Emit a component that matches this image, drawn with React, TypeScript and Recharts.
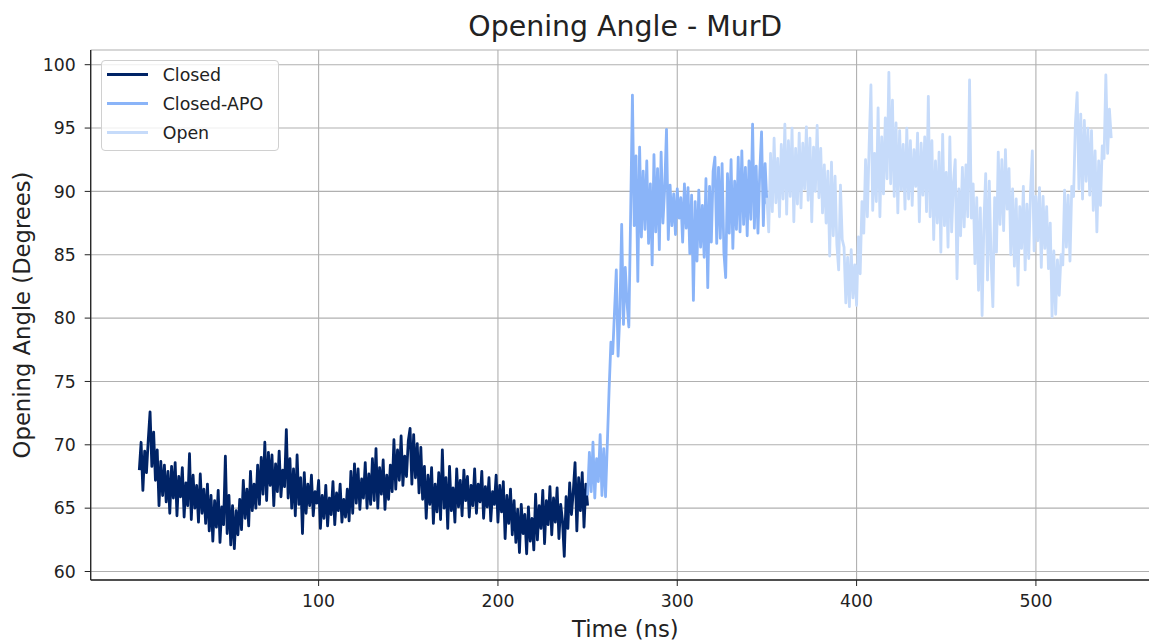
import { CartesianGrid, Legend, Line, LineChart, XAxis, YAxis } from "recharts"

// opening angle (degrees) sampled every 1 ns, one array per state
const closedStart = 0
const closedAngle = [
    68.0, 70.2, 66.4, 69.5, 67.8, 70.4, 72.6, 68.3, 71.0, 67.2,
    69.6, 65.2, 68.7, 66.0, 68.4, 65.5, 67.9, 64.6, 68.3, 65.8,
    68.6, 64.4, 67.5, 65.9, 68.2, 64.3, 67.0, 65.2, 69.3, 64.1,
    67.6, 65.0, 66.8, 63.9, 67.7, 64.6, 66.5, 63.8, 66.9, 63.2,
    66.0, 62.4, 65.6, 63.5, 66.4, 62.3, 65.1, 63.7, 69.1, 63.0,
    66.0, 62.1, 65.2, 61.8, 64.8, 62.9, 65.7, 63.3, 67.2, 64.2,
    66.5, 63.6, 67.9, 64.8, 66.9, 65.0, 68.4, 65.3, 69.0, 66.1,
    70.2, 65.6, 69.4, 66.8, 69.2, 65.2, 68.5, 66.3, 69.5, 65.9,
    68.0, 66.7, 71.2, 65.8, 68.9, 65.0, 68.1, 64.4, 69.2, 65.3,
    67.4, 63.0, 67.8, 64.6, 66.9, 65.2, 67.6, 64.4, 66.3, 65.4,
    67.2, 63.4, 66.0, 64.2, 66.8, 63.6, 65.8, 64.5, 67.1, 63.7,
    66.2, 64.8, 66.9, 63.9, 65.7, 64.3, 66.5, 64.0, 67.9, 64.6,
    68.5, 65.4, 68.1, 64.9, 67.3, 65.8, 68.6, 65.0, 67.7, 65.3,
    68.9, 65.6, 69.7, 65.0, 68.2, 66.1, 68.8, 64.9, 67.6, 65.7,
    68.4, 66.3, 70.4, 66.5, 69.6, 67.2, 70.7, 66.8, 69.1, 67.5,
    70.3, 71.3, 66.9, 70.8, 67.4, 70.1, 66.2, 69.8, 65.7, 68.3,
    64.2, 67.6, 65.3, 68.2, 63.8, 66.9, 64.7, 67.8, 64.1, 69.6,
    65.0, 67.4, 63.4, 68.3, 64.8, 66.6, 63.9, 68.1, 65.1, 67.2,
    64.4, 68.0, 65.6, 67.5, 64.3, 66.8, 65.2, 68.1, 64.6, 66.9,
    65.5, 67.9, 64.2, 66.7, 65.1, 67.4, 64.0, 66.3, 65.3, 67.6,
    63.9, 66.8, 64.7, 67.1, 62.6, 66.0, 63.8, 66.5, 62.9, 65.6,
    62.3, 64.9, 61.5, 65.3, 63.0, 64.5, 61.4, 65.1, 62.4, 64.2,
    61.7, 66.1, 62.5, 65.2, 63.4, 66.4, 62.2, 65.6, 63.7, 66.7,
    62.9, 65.8, 63.9, 66.6, 62.6, 65.3, 64.0, 61.2, 65.9, 63.4,
    67.0, 64.5, 66.3, 68.6, 63.2, 67.4, 64.8, 67.8, 63.5, 66.9,
    65.2,
]

const apoStart = 250
const apoAngle = [
    66.0, 69.4, 66.3, 70.2, 65.8, 68.9, 67.1, 70.8, 66.0, 69.7,
    65.9, 70.1, 74.4, 78.1, 77.2, 80.5, 83.8, 77.0, 80.4, 87.4,
    79.5, 84.0, 81.2, 79.3, 88.2, 97.6, 87.3, 92.8, 82.9, 93.5,
    86.4, 91.6, 87.0, 92.4, 85.9, 90.6, 84.2, 92.9, 86.8, 91.8,
    85.4, 93.1, 87.5, 90.3, 94.9, 86.2, 90.5, 87.3, 89.8, 86.6,
    90.2, 87.9, 89.5, 86.0, 90.6, 87.1, 90.3, 85.1, 89.7, 81.4,
    89.2, 84.5, 90.1, 85.6, 88.9, 84.8, 91.0, 82.4, 90.4, 86.0,
    91.6, 92.7, 85.9, 91.9, 86.3, 92.2, 85.2, 83.2, 91.4, 86.7,
    92.5, 85.5, 90.8, 87.0, 92.7, 86.8, 93.2, 87.4, 91.9, 86.5,
    92.4, 87.8, 95.3, 87.1, 92.0, 86.7, 91.5, 94.7, 87.3, 92.2,
    89.0,
]

const openStart = 350
const openAngle = [
    89.5, 86.8, 93.0, 88.4, 94.2, 89.1, 92.6, 88.0, 93.7, 89.4,
    95.3, 88.2, 94.0, 89.6, 95.0, 87.6, 93.4, 89.0, 94.6, 88.7,
    93.8, 90.2, 95.1, 89.3, 94.2, 87.6, 93.5, 90.0, 95.2, 89.5,
    93.4, 88.3, 92.1, 87.5, 91.6, 84.9, 92.3, 86.5, 91.2, 85.8,
    83.8, 90.5, 86.2, 85.6, 81.2, 84.8, 80.9, 85.4, 81.6, 84.2,
    81.0, 86.4, 83.5, 89.2, 86.7, 92.5, 88.0, 93.6, 98.4, 88.5,
    93.0, 89.2, 96.6, 88.0, 94.3, 89.8, 95.8, 91.0, 99.4, 90.6,
    97.2, 89.6, 95.4, 88.3, 94.8, 90.1, 93.7, 88.6, 95.0, 89.4,
    94.0, 88.9, 93.3, 90.4, 94.6, 87.6, 93.8, 89.7, 94.3, 88.4,
    97.5, 88.0, 94.0, 86.2, 92.4, 87.5, 93.1, 85.2, 94.5, 87.3,
    91.5, 85.6, 94.3, 86.8, 90.7, 92.5, 83.1, 90.2, 86.5, 91.9,
    87.2, 92.1, 88.0, 98.8, 87.9, 90.6, 84.3, 89.5, 82.2, 88.7,
    80.2, 87.6, 91.4, 83.0, 90.8, 84.6, 80.9, 89.5, 85.2, 93.1,
    87.4, 92.5, 86.9, 93.3, 88.6, 91.8, 85.0, 90.2, 84.1, 89.4,
    82.6, 88.8, 85.5, 90.4, 83.8, 89.0, 84.7, 90.0, 93.2, 85.3,
    89.6, 86.1, 90.3, 84.0, 89.6, 85.5, 88.8, 83.9, 87.5, 80.1,
    85.3, 80.3, 84.6, 81.8, 85.0, 84.2, 90.1, 85.6, 89.7, 84.5,
    90.4, 89.6, 95.3, 97.8, 90.2, 96.1, 89.4, 95.6, 90.8, 95.0,
    89.7, 94.8, 88.5, 93.2, 86.8, 92.4, 88.9, 93.6, 92.6, 99.2,
    93.0, 96.5, 94.2,
]

const timeTicks = [100, 200, 300, 400, 500]
const angleTicks = [60, 65, 70, 75, 80, 85, 90, 95, 100]

const toSeries = (start: number, values: number[]) =>
    values.map((angle, i) => ({ time: start + i, angle }))

const font = "DejaVu Sans"
const ink = "#222222"
const timeDomain: [number, number] = [-27.1, 569.2]
const angleDomain: [number, number] = [59.33, 101.16]
const lineWidth = 2.8

function PlotLegend({ payload }: any) {
    return (
        <div
            style={{
                position: "relative",
                width: 178,
                height: 91,
                boxSizing: "border-box",
                border: "1px solid #d0d0d0",
                borderRadius: 4,
                background: "rgba(255,255,255,0.8)",
                fontFamily: font,
                fontSize: 17.4,
                color: ink,
            }}
        >
            {(payload || []).map((item: any, i: number) => (
                <div
                    key={item.value}
                    style={{ position: "absolute", left: 0, top: 0.7 + i * 29, height: 26, display: "flex", alignItems: "center" }}
                >
                    <span style={{ display: "inline-block", marginLeft: 5, width: 41, height: 2.5, background: item.color }} />
                    <span style={{ marginLeft: 15, whiteSpace: "nowrap" }}>{item.value}</span>
                </div>
            ))}
        </div>
    )
}

export default function App() {
    return (
        <div style={{ position: "fixed", left: 0, top: 0, width: 1149, height: 641, overflow: "hidden", background: "#fff" }}>
            <div
                style={{
                    position: "absolute",
                    left: 0,
                    top: 12.5,
                    width: 1250.6,
                    textAlign: "center",
                    fontFamily: font,
                    fontSize: 28.4,
                    lineHeight: 1,
                    color: ink,
                    whiteSpace: "nowrap",
                }}
            >
                Opening Angle - MurD
            </div>
            <LineChart width={1175} height={641} margin={{ top: 50, right: 15, bottom: 0, left: 30.7 }}>
                <CartesianGrid stroke="#b0b0b0" strokeWidth={1.1} />
                <XAxis
                    xAxisId="top"
                    orientation="top"
                    type="number"
                    domain={timeDomain}
                    allowDataOverflow
                    height={0}
                    tick={false}
                    tickLine={false}
                    axisLine={{ stroke: ink, strokeWidth: 1.3 }}
                />
                <XAxis
                    dataKey="time"
                    type="number"
                    domain={timeDomain}
                    allowDataOverflow
                    ticks={timeTicks}
                    height={61}
                    tickSize={6}
                    tickMargin={9}
                    stroke={ink}
                    axisLine={{ stroke: ink, strokeWidth: 1.3 }}
                    tick={{ fill: ink, fontFamily: font, fontSize: 17.3 }}
                    label={{
                        content: () => (
                            <text x={625.3} y={636.5} textAnchor="middle" fontFamily={font} fontSize={22.7} fill={ink}>
                                Time (ns)
                            </text>
                        ),
                    }}
                />
                <YAxis
                    type="number"
                    domain={angleDomain}
                    allowDataOverflow
                    ticks={angleTicks}
                    width={60}
                    tickSize={6}
                    tickMargin={9}
                    stroke={ink}
                    axisLine={{ stroke: ink, strokeWidth: 1.3 }}
                    tick={{ fill: ink, fontFamily: font, fontSize: 17.3 }}
                    label={{
                        content: () => (
                            <text
                                x={30}
                                y={315}
                                transform="rotate(-90 30 315)"
                                textAnchor="middle"
                                fontFamily={font}
                                fontSize={22.7}
                                fill={ink}
                            >
                                Opening Angle (Degrees)
                            </text>
                        ),
                    }}
                />
                <Line
                    data={toSeries(closedStart, closedAngle)}
                    dataKey="angle"
                    name="Closed"
                    type="linear"
                    stroke="#002366"
                    strokeWidth={lineWidth}
                    strokeLinejoin="round"
                    dot={false}
                    isAnimationActive={false}
                />
                <Line
                    data={toSeries(apoStart, apoAngle)}
                    dataKey="angle"
                    name="Closed-APO"
                    type="linear"
                    stroke="#8AB4F8"
                    strokeWidth={lineWidth}
                    strokeLinejoin="round"
                    dot={false}
                    isAnimationActive={false}
                />
                <Line
                    data={toSeries(openStart, openAngle)}
                    dataKey="angle"
                    name="Open"
                    type="linear"
                    stroke="#C6DBFA"
                    strokeWidth={lineWidth}
                    strokeLinejoin="round"
                    dot={false}
                    isAnimationActive={false}
                />
                <Legend
                    verticalAlign="middle"
                    align="center"
                    layout="horizontal"
                    wrapperStyle={{ left: 100.7, top: 60, width: 178, height: 91 }}
                    content={PlotLegend}
                />
            </LineChart>
        </div>
    )
}
